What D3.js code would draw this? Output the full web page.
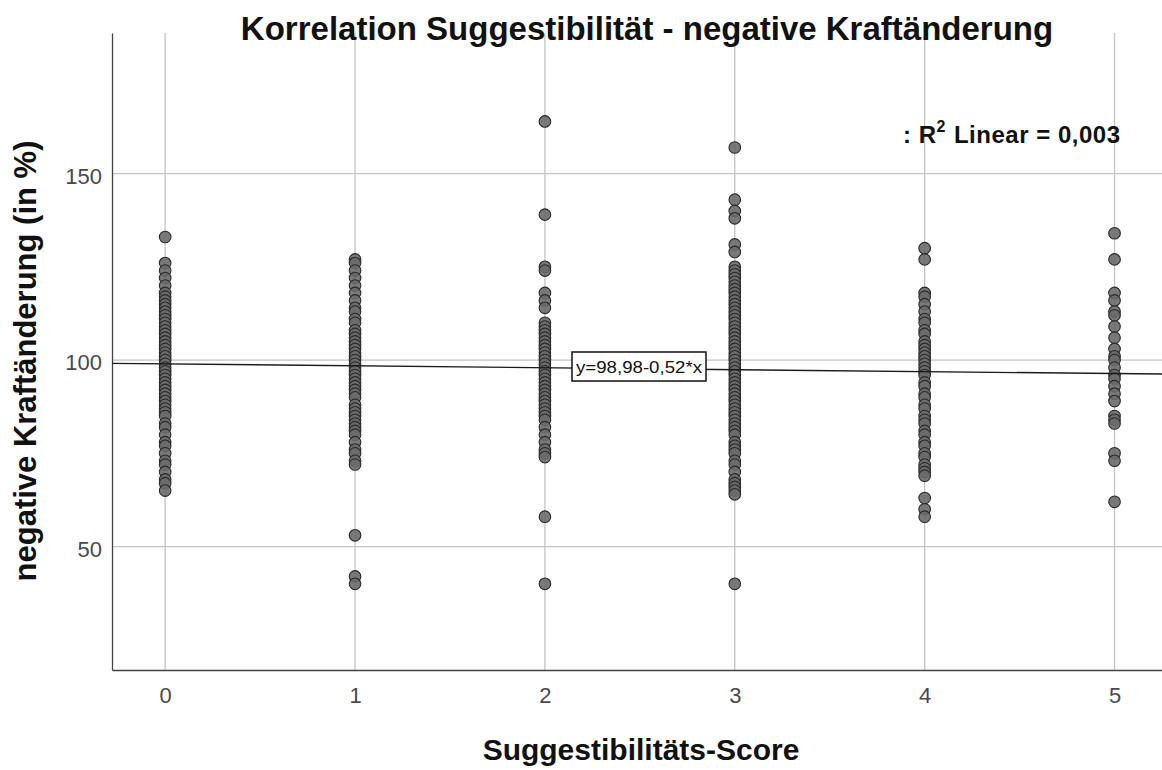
<!DOCTYPE html>
<html>
<head>
<meta charset="utf-8">
<script src="https://cdn.jsdelivr.net/npm/d3@7"></script>
<style>
  body { margin: 0; background: #fff; }
  text { font-family: "Liberation Sans", Arial, sans-serif; }
</style>
</head>
<body>
<svg id="chart" width="1162" height="770"></svg>
<script>
// scores on x, values per score column
var scores = [0, 1, 2, 3, 4, 5];
var col0 = [133, 126, 124, 122, 120, 118, 117, 116, 115, 114, 113, 112, 111, 110, 109, 108, 107, 106, 105, 104, 103, 102, 101, 100, 99, 98, 97, 96, 95, 94, 93, 92, 91, 90, 89, 88, 87, 86, 85, 83, 82, 80, 78, 77, 75, 73, 72, 70, 68, 67, 65];
var col1 = [127, 126, 124, 122, 120, 118, 116, 114, 113, 111, 110, 108, 107, 106, 105, 104, 103, 102, 101, 100, 99, 98, 97, 96, 95, 94, 93, 92, 91, 90, 88, 87, 86, 85, 84, 83, 82, 81, 80, 78, 76, 75, 73, 72, 53, 42, 40];
var col2 = [164, 139, 125, 124, 118, 116, 114, 110, 109, 108, 107, 106, 105, 104, 103, 102, 101, 100, 99, 98, 97, 96, 95, 94, 93, 92, 91, 90, 89, 88, 87, 86, 85, 84, 82, 80, 78, 76, 75, 74, 58, 40];
var col3 = [157, 143, 140, 138, 131, 129, 125, 124, 123, 122, 121, 120, 119, 118, 117, 116, 115, 114, 113, 112, 111, 110, 109, 108, 107, 106, 105, 104, 103, 102, 101, 100, 99, 98, 97, 96, 95, 94, 93, 92, 91, 90, 89, 88, 87, 86, 85, 84, 83, 82, 81, 80, 78, 77, 76, 75, 73, 72, 70, 68, 67, 66, 65, 64, 40];
var col4 = [130, 127, 118, 117, 115, 113, 111, 110, 108, 107, 105, 104, 103, 102, 101, 100, 99, 98, 97, 96, 94, 93, 91, 90, 88, 87, 85, 84, 83, 81, 80, 78, 77, 75, 74, 72, 71, 70, 69, 63, 60, 58];
var col5 = [134, 127, 118, 116, 113, 112, 109, 106, 103, 101, 100, 98, 96, 95, 93, 91, 89, 85, 84, 83, 75, 73, 62];
var columns = [col0, col1, col2, col3, col4, col5];

var yTicks = [50, 100, 150];
var fitIntercept = 98.98, fitSlope = -0.52;
var title = 'Korrelation Suggestibilität - negative Kraftänderung';
var xLabel = 'Suggestibilitäts-Score';
var yLabel = 'negative Kraftänderung (in %)';
var eqLabel = 'y=98,98-0,52*x';
var r2Value = '0,003';

var svg = d3.select('#chart');
// plot frame (note: "top" is reserved on window, so prefix)
var plotL = 112, plotR = 1162, plotT = 33, plotB = 670;

var x = d3.scaleLinear().domain([-0.28, 5.25]).range([plotL, plotR]);
var y = d3.scaleLinear().domain([16.9, 187.7]).range([plotB, plotT]);

// gridlines
svg.append('g').selectAll('line').data(yTicks).enter().append('line')
  .attr('x1', plotL).attr('x2', plotR)
  .attr('y1', d => y(d)).attr('y2', d => y(d))
  .attr('stroke', '#c4c4c4').attr('stroke-width', 1.3);
svg.append('g').selectAll('line').data(scores).enter().append('line')
  .attr('x1', d => x(d)).attr('x2', d => x(d))
  .attr('y1', plotT).attr('y2', plotB)
  .attr('stroke', '#c4c4c4').attr('stroke-width', 1.3);

// axes
var xAxis = svg.append('g').attr('transform', 'translate(0,' + plotB + ')')
  .call(d3.axisBottom(x).tickValues(scores).tickSize(0).tickPadding(17).tickFormat(d3.format('d')));
var yAxis = svg.append('g').attr('transform', 'translate(' + plotL + ',0)')
  .call(d3.axisLeft(y).tickValues(yTicks).tickSize(0).tickPadding(10));
[xAxis, yAxis].forEach(function(a) {
  a.select('.domain').attr('stroke', '#444').attr('stroke-width', 1.3);
  a.selectAll('text').attr('font-size', 22).attr('fill', '#4a4a4a')
    .attr('font-family', '"Liberation Sans", Arial, sans-serif');
});
yAxis.selectAll('text').attr('dy', '0.45em');

// points
var points = [];
columns.forEach(function(col, i) {
  col.forEach(function(v) { points.push({ s: scores[i], v: v }); });
});
svg.append('g').selectAll('circle').data(points).enter().append('circle')
  .attr('cx', d => x(d.s)).attr('cy', d => y(d.v)).attr('r', 5.8)
  .attr('fill', '#6a6a6a').attr('stroke', '#2a2a2a').attr('stroke-width', 1.1)
  .attr('fill-opacity', 0.9);

// fit line
var xd = x.domain();
svg.append('line')
  .attr('x1', x(xd[0])).attr('y1', y(fitIntercept + fitSlope * xd[0]))
  .attr('x2', x(xd[1])).attr('y2', y(fitIntercept + fitSlope * xd[1]))
  .attr('stroke', '#1a1a1a').attr('stroke-width', 1.4);

// equation box
var eq = svg.append('g').attr('transform', 'translate(572,352)');
eq.append('rect').attr('width', 134).attr('height', 29)
  .attr('fill', '#fff').attr('stroke', '#111').attr('stroke-width', 1.5);
eq.append('text').attr('x', 67).attr('y', 21).attr('text-anchor', 'middle')
  .attr('font-size', 17).attr('fill', '#111')
  .attr('textLength', 126).attr('lengthAdjust', 'spacingAndGlyphs').text(eqLabel);

// R2 label
var r2 = svg.append('text').attr('x', 903).attr('y', 143)
  .attr('font-size', 24).attr('font-weight', 'bold').attr('fill', '#111')
  .attr('textLength', 217).attr('lengthAdjust', 'spacing');
r2.append('tspan').text(': R');
r2.append('tspan').attr('font-size', 16).attr('dy', -11).text('2');
r2.append('tspan').attr('dy', 11).attr('dx', 8).text('Linear = ' + r2Value);

// title and axis labels
svg.append('text').attr('x', 647).attr('y', 40).attr('text-anchor', 'middle')
  .attr('font-size', 33).attr('font-weight', 'bold').attr('fill', '#111').text(title);
svg.append('text').attr('x', 641).attr('y', 760).attr('text-anchor', 'middle')
  .attr('font-size', 30).attr('font-weight', 'bold').attr('fill', '#111').text(xLabel);
svg.append('text').attr('transform', 'translate(36,361) rotate(-90)').attr('text-anchor', 'middle')
  .attr('font-size', 31).attr('font-weight', 'bold').attr('fill', '#111').text(yLabel);
</script>
</body>
</html>
